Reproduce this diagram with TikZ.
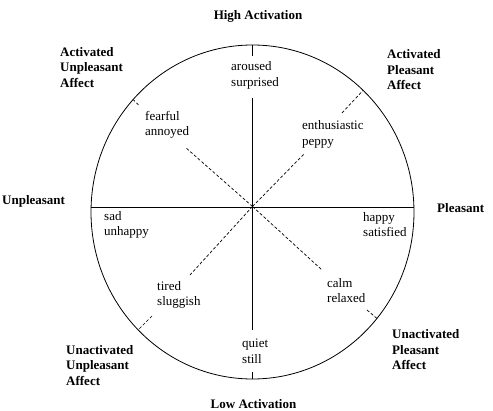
\documentclass[tikz,border=0pt]{standalone}
\usepackage{fontspec}
\setmainfont{Liberation Serif}
\begin{document}
\begin{tikzpicture}[x=1pt,y=-1pt,
  lbl/.style={inner sep=0pt,align=left,anchor=west,font=\fontsize{13}{15.5}\selectfont},
  blbl/.style={lbl,font=\fontsize{13}{15.5}\selectfont\bfseries},
  axis/.style={line width=0.8pt},
  diag/.style={line width=0.7pt,dash pattern=on 3pt off 2pt}]
\useasboundingbox (0,0) rectangle (493,411);
% circle
\draw[axis] (252.5,212) ellipse [x radius=161.5, y radius=167];
% coordinates
\coordinate (C) at (252.5,206.5);
\coordinate (W) at (90.8,207);
\coordinate (E) at (413.5,207);
\coordinate (Ntop) at (252.5,44.8);
\coordinate (Ntick) at (252.5,56);
\coordinate (Nin) at (252.5,98);
\coordinate (Sin) at (252.5,330);
\coordinate (Stick) at (252.5,372.5);
\coordinate (Sbot) at (252.5,379);
\coordinate (NEo) at (363,90.5);
\coordinate (NEt) at (342,113);
\coordinate (NEi) at (304,154);
\coordinate (NWo) at (133,99.5);
\coordinate (NWt) at (138.5,105);
\coordinate (NWi) at (185,147);
\coordinate (SWo) at (138.5,329.5);
\coordinate (SWt) at (152,316);
\coordinate (SWi) at (190,275);
\coordinate (SEo) at (377,318.5);
\coordinate (SEt) at (367,310);
\coordinate (SEi) at (322,270);
% axes
\draw[axis] (W) -- (E);
\draw[axis] (Ntop) -- (Ntick);
\draw[axis] (Nin) -- (Sin);
\draw[axis] (Stick) -- (Sbot);
% diagonals
\draw[diag] (C) -- (NEi);
\draw[diag] (NEt) -- (NEo);
\draw[diag] (C) -- (NWi);
\draw[diag] (NWt) -- (NWo);
\draw[diag] (C) -- (SWi);
\draw[diag] (SWt) -- (SWo);
\draw[diag] (C) -- (SEi);
\draw[diag] (SEt) -- (SEo);
% labels
\node[blbl,anchor=center] (hi) at (258,16) {High Activation};
\node[blbl,anchor=center] (lo) at (253.5,404.5) {Low Activation};
\node[blbl] (aua) at (60,67.5) {Activated\\Unpleasant\\Affect};
\node[blbl] (apa) at (387,70) {Activated\\Pleasant\\Affect};
\node[blbl] (unp) at (2,201.5) {Unpleasant};
\node[blbl] (ple) at (437,208) {Pleasant};
\node[blbl] (uua) at (66,365.5) {Unactivated\\Unpleasant\\Affect};
\node[blbl] (upa) at (392,350) {Unactivated\\Pleasant\\Affect};
\node[lbl] (aro) at (231,75.5) {aroused\\surprised};
\node[lbl] (fea) at (145,125) {fearful\\annoyed};
\node[lbl] (ent) at (302,134.5) {enthusiastic\\peppy};
\node[lbl] (sad) at (104,225) {sad\\unhappy};
\node[lbl] (hap) at (363,224.5) {happy\\satisfied};
\node[lbl] (tir) at (157,295) {tired\\sluggish};
\node[lbl] (cal) at (327,290.5) {calm\\relaxed};
\node[lbl] (qui) at (242,351.5) {quiet\\still};
\end{tikzpicture}
\end{document}
